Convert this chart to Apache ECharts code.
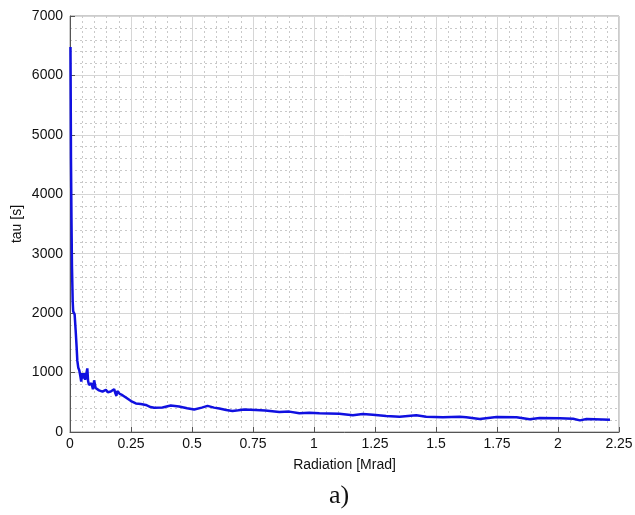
<!DOCTYPE html>
<html>
<head>
<meta charset="utf-8">
<script src="https://cdn.jsdelivr.net/npm/echarts@6/dist/echarts.min.js"></script>
<style>
  html, body { margin: 0; padding: 0; background: #fff; }
  #chart { width: 635px; height: 515px; }
</style>
</head>
<body>
<div id="chart"></div>
<script>
// radiation dose [Mrad]
const radiation = [
  0.002, 0.003, 0.004, 0.006, 0.008, 0.011, 0.013, 0.016, 0.019, 0.023,
  0.027, 0.030, 0.034, 0.038, 0.042, 0.046, 0.050, 0.054, 0.057, 0.062,
  0.066, 0.071, 0.074, 0.078, 0.083, 0.088, 0.094, 0.099, 0.105, 0.112,
  0.119, 0.126, 0.133, 0.140, 0.147, 0.155, 0.160, 0.167, 0.174, 0.181,
  0.186, 0.190, 0.194, 0.198, 0.204, 0.208, 0.215, 0.229, 0.250, 0.270,
  0.290, 0.311, 0.330, 0.345, 0.379, 0.413, 0.447, 0.480, 0.509, 0.540,
  0.564, 0.590, 0.612, 0.640, 0.666, 0.690, 0.714, 0.762, 0.800, 0.858,
  0.899, 0.940, 0.981, 1.022, 1.060, 1.104, 1.159, 1.200, 1.241, 1.296,
  1.351, 1.419, 1.460, 1.528, 1.597, 1.624, 1.679, 1.748, 1.830, 1.884,
  1.925, 2.007, 2.062, 2.090, 2.117, 2.213
];
// tau [s]
const tau = [
  6480, 5600, 4600, 3600, 2800, 2200, 2030, 2010, 1980, 1720,
  1440, 1200, 1080, 1040, 950, 850, 990, 900, 990, 880,
  960, 1070, 860, 790, 760, 820, 720, 870, 740, 710,
  700, 720, 680, 700, 710, 670, 700, 680, 700, 720,
  650, 610, 690, 660, 640, 650, 620, 580, 520, 480,
  470, 455, 420, 408, 412, 445, 430, 400, 378, 410,
  440, 410, 395, 370, 352, 365, 380, 370, 360, 337,
  343, 314, 325, 314, 312, 308, 280, 303, 292, 269,
  258, 280, 258, 247, 258, 247, 219, 253, 247, 213,
  236, 230, 224, 196, 219, 208
];

const xMax = 2.25;
const yMax = 7000;

const chart = echarts.init(document.getElementById("chart"));

const axisCommon = {
  axisLine: { show: true, lineStyle: { color: "#555", width: 1 } },
  axisTick: { show: true, inside: true, length: 5, lineStyle: { color: "#555" } },
  axisLabel: { color: "#111", fontSize: 14, fontFamily: "Liberation Sans, Arial" },
  splitLine: { show: true, lineStyle: { color: "#d6d6d6", width: 1 } },
  minorTick: { show: false, splitNumber: 5 },
  minorSplitLine: { show: true, lineStyle: { color: "#c9c9c9", type: [2, 3], width: 1 } },
  nameTextStyle: { color: "#111", fontSize: 14, fontFamily: "Liberation Sans, Arial" },
  nameMoveOverlap: false,
};

const option = {
  animation: false,
  backgroundColor: "#fff",
  title: {
    text: "a)",
    left: 324,
    top: 478,
    textStyle: { fontFamily: "Liberation Serif, Times New Roman", fontSize: 26, fontWeight: "normal", color: "#111" },
  },
  grid: {
    left: 70, right: 16, top: 16, bottom: 83,
    outerBoundsMode: "none",
    containLabel: false,
    show: true, borderColor: "#999", borderWidth: 1,
  },
  xAxis: {
    ...axisCommon,
    type: "value",
    min: 0, max: xMax, interval: 0.25,
    name: "Radiation [Mrad]",
    nameLocation: "middle",
    nameGap: 26,
    axisLabel: { ...axisCommon.axisLabel, margin: 5 },
  },
  yAxis: {
    ...axisCommon,
    type: "value",
    min: 0, max: yMax, interval: 1000,
    name: "tau [s]",
    nameLocation: "middle",
    nameGap: 46,
    axisLabel: { ...axisCommon.axisLabel, margin: 7, formatter: (v) => String(v) },
  },
  series: [
    {
      type: "line",
      data: radiation.map((r, i) => [r, tau[i]]),
      showSymbol: false,
      lineStyle: { color: "#1010e0", width: 2.5 },
    },
  ],
};

chart.setOption(option);
</script>
</body>
</html>
